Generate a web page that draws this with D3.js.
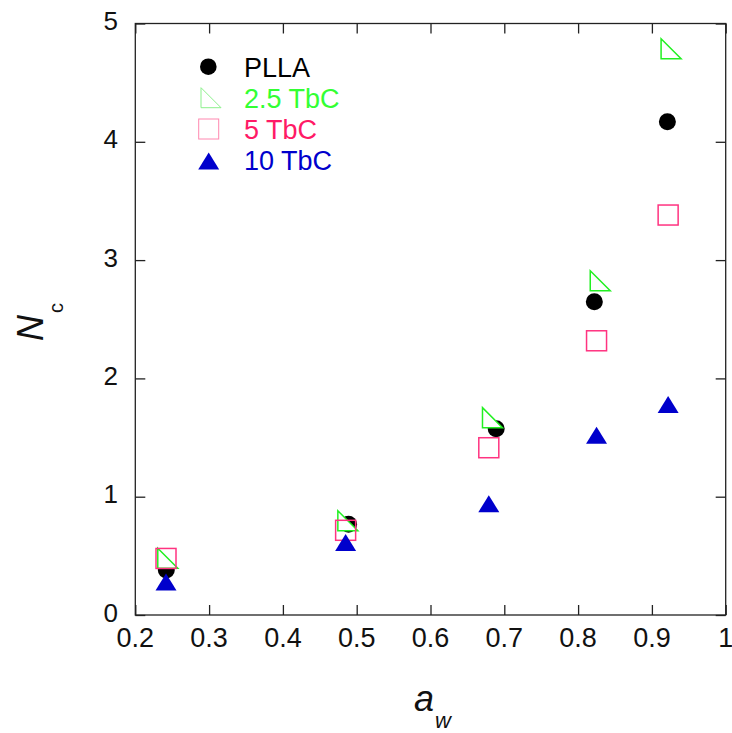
<!DOCTYPE html>
<html>
<head>
<meta charset="utf-8">
<script src="https://cdn.jsdelivr.net/npm/d3@7"></script>
<style>
  body { margin: 0; background: #fff; }
  text { font-family: "Liberation Sans", Arial, sans-serif; }
</style>
</head>
<body>
<script>
// data
var xTicks = [0.2, 0.3, 0.4, 0.5, 0.6, 0.7, 0.8, 0.9, 1];
var yTicks = [0, 1, 2, 3, 4, 5];

var pllaX = [0.242, 0.489, 0.689, 0.822, 0.921];
var pllaY = [0.38, 0.767, 1.575, 2.648, 4.17];
var tbc25X = [0.244, 0.488, 0.684, 0.830, 0.926];
var tbc25Y = [0.479, 0.796, 1.668, 2.825, 4.787];
var tbc5X = [0.2416, 0.485, 0.679, 0.825, 0.922];
var tbc5Y = [0.478, 0.716, 1.414, 2.318, 3.381];
var tbc10X = [0.2416, 0.485, 0.679, 0.825, 0.922];
var tbc10Y = [0.279, 0.613, 0.941, 1.519, 1.779];

var legendLabels = ["PLLA", "2.5 TbC", "5 TbC", "10 TbC"];
var legendColors = ["#000000", "#33ff33", "#ff1a66", "#0000cc"];

// set the dimensions
var width = 732, height = 733;
var plotLeft = 135.3, plotRight = 725.7, plotTop = 23.5, plotBottom = 615;

var x = d3.scaleLinear().domain([0.2, 1]).range([plotLeft, plotRight]);
var y = d3.scaleLinear().domain([0, 5]).range([plotBottom, plotTop]);

var svg = d3.select("body").append("svg")
    .attr("width", width)
    .attr("height", height);

function pairs(xs, ys) {
    return xs.map(function (v, i) { return [v, ys[i]]; });
}

// marker shapes
var rightTri = "M-10,-10L-10,10L10,10Z";
var upTri = "M-10.5,8.5L10.5,8.5L0,-8.5Z";

// points: circle, green triangle, square, blue triangle
svg.append("g").selectAll("circle")
    .data(pairs(pllaX, pllaY))
    .enter().append("circle")
    .attr("cx", function (d) { return x(d[0]); })
    .attr("cy", function (d) { return y(d[1]); })
    .attr("r", 8.5)
    .attr("fill", "#000");

svg.append("g").selectAll("path")
    .data(pairs(tbc25X, tbc25Y))
    .enter().append("path")
    .attr("d", rightTri)
    .attr("transform", function (d) { return "translate(" + x(d[0]) + "," + y(d[1]) + ")"; })
    .attr("fill", "#fff")
    .attr("stroke", "#22f022")
    .attr("stroke-width", 1.5);

svg.append("g").selectAll("rect")
    .data(pairs(tbc5X, tbc5Y))
    .enter().append("rect")
    .attr("x", function (d) { return x(d[0]) - 10; })
    .attr("y", function (d) { return y(d[1]) - 10; })
    .attr("width", 20)
    .attr("height", 20)
    .attr("fill", "none")
    .attr("stroke", "#ff3380")
    .attr("stroke-width", 1.5);

svg.append("g").selectAll("path")
    .data(pairs(tbc10X, tbc10Y))
    .enter().append("path")
    .attr("d", upTri)
    .attr("transform", function (d) { return "translate(" + x(d[0]) + "," + y(d[1]) + ")"; })
    .attr("fill", "#0000cc");

// frame and inward ticks on all four sides
var axisColor = "#222";
svg.append("rect")
    .attr("x", plotLeft).attr("y", plotTop)
    .attr("width", plotRight - plotLeft).attr("height", plotBottom - plotTop)
    .attr("fill", "none")
    .attr("stroke", axisColor)
    .attr("stroke-width", 1.3);

function styleTicks(g) {
    g.select(".domain").remove();
    g.selectAll("line").attr("stroke", axisColor).attr("stroke-width", 1.3);
}

svg.append("g")
    .attr("transform", "translate(0," + plotBottom + ")")
    .call(d3.axisBottom(x).tickValues(xTicks).tickSize(-10).tickFormat(""))
    .call(styleTicks);
svg.append("g")
    .attr("transform", "translate(0," + plotTop + ")")
    .call(d3.axisTop(x).tickValues(xTicks).tickSize(-10).tickFormat(""))
    .call(styleTicks);
svg.append("g")
    .attr("transform", "translate(" + plotLeft + ",0)")
    .call(d3.axisLeft(y).tickValues(yTicks).tickSize(-10).tickFormat(""))
    .call(styleTicks);
svg.append("g")
    .attr("transform", "translate(" + plotRight + ",0)")
    .call(d3.axisRight(y).tickValues(yTicks).tickSize(-10).tickFormat(""))
    .call(styleTicks);

// tick labels
svg.append("g").selectAll("text")
    .data(xTicks)
    .enter().append("text")
    .attr("x", function (d) { return x(d); })
    .attr("y", 646.5)
    .attr("text-anchor", "middle")
    .attr("font-size", 27)
    .attr("fill", "#111")
    .text(function (d) { return d; });

svg.append("g").selectAll("text")
    .data(yTicks)
    .enter().append("text")
    .attr("x", 118)
    .attr("y", function (d) { return y(d) + 6.5; })
    .attr("text-anchor", "end")
    .attr("font-size", 26)
    .attr("fill", "#111")
    .text(function (d) { return d; });

// axis titles
var yTitle = svg.append("text")
    .attr("transform", "translate(43,341) rotate(-90)")
    .attr("font-size", 36)
    .attr("fill", "#111");
yTitle.append("tspan").attr("font-style", "italic").text("N");
yTitle.append("tspan").attr("font-size", 20).attr("dx", 2).attr("dy", 20).text("c");

var xTitle = svg.append("text")
    .attr("x", 414)
    .attr("y", 711)
    .attr("font-family", "'Liberation Serif', 'Times New Roman', serif")
    .attr("font-style", "italic")
    .attr("font-size", 36)
    .attr("fill", "#111");
xTitle.append("tspan").text("a");
xTitle.append("tspan").attr("font-size", 22).attr("dx", 1).attr("dy", 17).text("w");

// legend
var legend = svg.append("g");
var rowY = [66.7, 97.7, 129, 161];
var baseY = [76.7, 108.3, 139.3, 170];

legend.append("circle").attr("cx", 208.3).attr("cy", rowY[0]).attr("r", 8.3).attr("fill", "#000");
legend.append("path").attr("d", rightTri)
    .attr("transform", "translate(211," + rowY[1] + ")")
    .attr("fill", "none").attr("stroke", "#8cf08c").attr("stroke-width", 1);
legend.append("rect").attr("x", 198.7).attr("y", rowY[2] - 10).attr("width", 20).attr("height", 20)
    .attr("fill", "none").attr("stroke", "#ff88b0").attr("stroke-width", 1);
legend.append("path").attr("d", upTri)
    .attr("transform", "translate(208.7," + rowY[3] + ")")
    .attr("fill", "#0000cc");

legend.selectAll("text")
    .data(legendLabels)
    .enter().append("text")
    .attr("x", 244)
    .attr("y", function (d, i) { return baseY[i]; })
    .attr("font-size", 27)
    .attr("fill", function (d, i) { return legendColors[i]; })
    .text(function (d) { return d; });
</script>
</body>
</html>
